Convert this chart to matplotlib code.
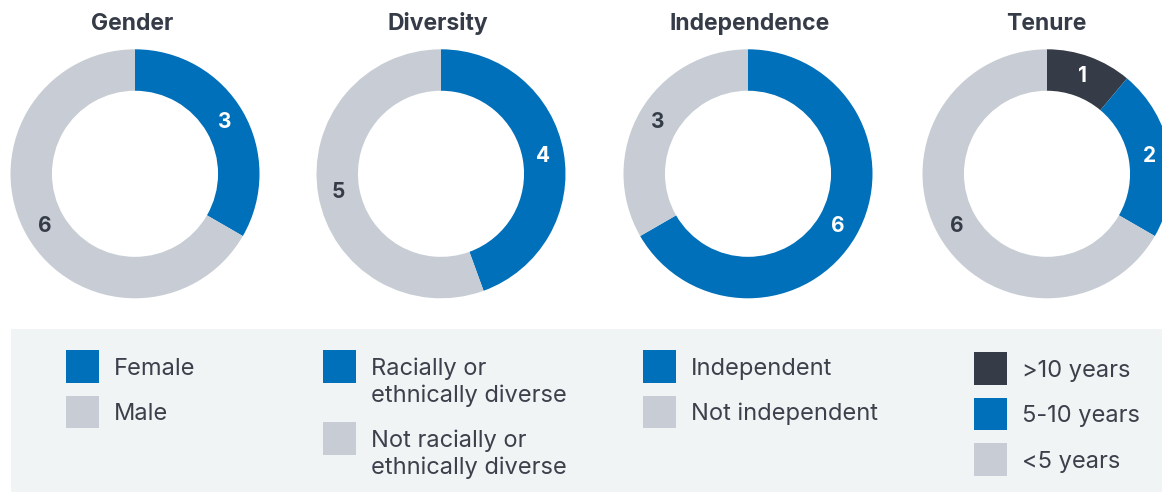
import matplotlib
matplotlib.use('Agg')
import matplotlib.pyplot as plt
from matplotlib.patches import Rectangle
import numpy as np

plt.rcParams['font.family'] = ['Inter', 'DejaVu Sans']

W, H = 1162, 492

BLUE = '#0070ba'
GRAY = '#c8cdd5'
DARK = '#353b47'
TXT = '#353b47'

# data
titles = ['Gender', 'Diversity', 'Independence', 'Tenure']
gender_vals = [3, 6]
gender_labels = ['Female', 'Male']
gender_colors = [BLUE, GRAY]
diversity_vals = [4, 5]
diversity_labels = ['Racially or\nethnically diverse', 'Not racially or\nethnically diverse']
diversity_colors = [BLUE, GRAY]
independence_vals = [6, 3]
independence_labels = ['Independent', 'Not independent']
independence_colors = [BLUE, GRAY]
tenure_vals = [1, 2, 6]
tenure_labels = ['>10 years', '5-10 years', '<5 years']
tenure_colors = [DARK, BLUE, GRAY]

charts = [
    (gender_vals, gender_labels, gender_colors),
    (diversity_vals, diversity_labels, diversity_colors),
    (independence_vals, independence_labels, independence_colors),
    (tenure_vals, tenure_labels, tenure_colors),
]

# layout (pixels)
centers_x = [135, 441, 748, 1047]
title_x = [132, 438, 750, 1046]
center_y = 173.8
R = 124.5
ring = 0.333
leg_x = [66, 323, 643, 974]
leg_y = [350, 350, 350, 352]
sq = 32.5
line_h = 27.4

fig = plt.figure(figsize=(W / 100, H / 100), dpi=100)

# background layer in pixel coordinates
bg = fig.add_axes([0, 0, 1, 1], zorder=0)
bg.set_xlim(0, W)
bg.set_ylim(H, 0)
bg.axis('off')
bg.add_patch(Rectangle((11, 329), W - 11, H - 329, facecolor='#f1f4f5', edgecolor='none'))

for i, (vals, labels, colors) in enumerate(charts):
    cx = centers_x[i]
    ax = fig.add_axes([(cx - R) / W, (H - center_y - R) / H, 2 * R / W, 2 * R / H], zorder=2)
    wedges, _ = ax.pie(vals, colors=colors, startangle=90, counterclock=False, radius=1,
                       wedgeprops=dict(width=ring, linewidth=0))
    ax.set_xlim(-1, 1)
    ax.set_ylim(-1, 1)
    ax.set_aspect('equal')
    ax.axis('off')
    for w, v, c in zip(wedges, vals, colors):
        ang = np.deg2rad((w.theta1 + w.theta2) / 2)
        r = 1 - ring / 2
        ax.text(r * np.cos(ang), r * np.sin(ang), str(v), ha='center', va='center',
                fontsize=15, fontweight='bold', color='white' if c != GRAY else TXT)

    # title
    bg.text(title_x[i], 30, titles[i], ha='center', va='baseline',
            fontsize=16.5, fontweight='bold', color=TXT)

    # legend
    y = leg_y[i]
    for lab, c in zip(labels, colors):
        bg.add_patch(Rectangle((leg_x[i], y), sq, sq, facecolor=c, edgecolor='none'))
        lines = lab.split('\n')
        base = y + sq / 2 + 8.6
        for k, ln in enumerate(lines):
            bg.text(leg_x[i] + 48, base + k * line_h, ln, ha='left', va='baseline',
                    fontsize=17, color='#3b404b')
        y += 45.5 + 26.5 * (len(lines) - 1)

fig.savefig('out.png', dpi=100)
